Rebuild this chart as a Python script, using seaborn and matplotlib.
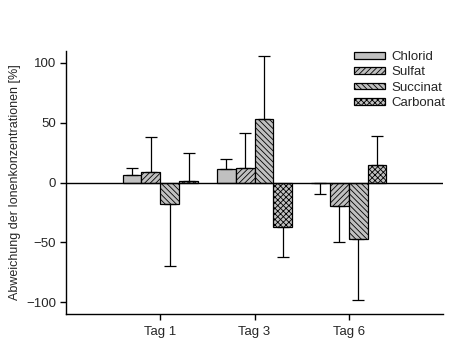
import matplotlib
matplotlib.use("Agg")
import matplotlib.pyplot as plt
import seaborn as sns
import pandas as pd
import numpy as np

days = ["Tag 1", "Tag 3", "Tag 6"]
ions = ["Chlorid", "Sulfat", "Succinat", "Carbonat"]
chlorid = [6.0, 11.7, -0.2]
sulfat = [9.0, 12.5, -20.0]
succinat = [-18.0, 53.0, -47.0]
carbonat = [1.5, -37.0, 14.3]
chlorid_err = [6.5, 8.3, 9.3]
sulfat_err = [29.0, 29.0, 29.5]
succinat_err = [52.0, 52.5, 51.5]
carbonat_err = [23.5, 25.0, 25.0]

values = {"Chlorid": chlorid, "Sulfat": sulfat, "Succinat": succinat, "Carbonat": carbonat}
errors = {"Chlorid": chlorid_err, "Sulfat": sulfat_err, "Succinat": succinat_err, "Carbonat": carbonat_err}
hatches = {"Chlorid": "", "Sulfat": "//////", "Succinat": "\\\\\\\\\\\\", "Carbonat": "xxxxxx"}

rows = []
for ion in ions:
    for d, v in zip(days, values[ion]):
        rows.append({"Tag": d, "Ion": ion, "Wert": v})
df = pd.DataFrame(rows)

sns.set_style("white")
plt.rcParams["font.family"] = ["Liberation Sans", "DejaVu Sans"]
plt.rcParams["hatch.linewidth"] = 0.6
plt.rcParams["font.size"] = 9.5

fig = plt.figure(figsize=(4.7, 3.53), dpi=100)
ax = fig.add_axes([66/470, 1-314/353, (443-66)/470, (314-51)/353])

sns.barplot(data=df, x="Tag", y="Wert", hue="Ion", order=days, hue_order=ions,
            palette=["#c0c0c0"]*4, edgecolor="black", linewidth=0.9, width=0.8,
            errorbar=None, ax=ax, saturation=1)

for ion, cont in zip(ions, ax.containers):
    xs, ys, lo, hi = [], [], [], []
    for bar, v, e in zip(cont.patches, values[ion], errors[ion]):
        bar.set_hatch(hatches[ion])
        xs.append(bar.get_x() + bar.get_width()/2)
        ys.append(v)
        if v >= 0:
            lo.append(0); hi.append(e)
        else:
            lo.append(e); hi.append(0)
    ax.errorbar(xs, ys, yerr=[lo, hi], fmt="none", ecolor="black",
                elinewidth=0.9, capsize=4, capthick=0.9, zorder=1)

ax.axhline(0, color="black", lw=1, zorder=3)
ax.set_xlim(-1, 3)
ax.set_ylim(-110, 110)
ax.set_yticks([-100, -50, 0, 50, 100])
ax.set_xlabel("")
ax.set_ylabel("Abweichung der Ionenkonzentrationen [%]", fontsize=9, labelpad=4)
for s in ["top", "right"]:
    ax.spines[s].set_visible(False)
for s in ["left", "bottom"]:
    ax.spines[s].set_color("black")
    ax.spines[s].set_linewidth(1)
ax.tick_params(axis="both", direction="out", length=4, width=1, color="black",
               labelsize=9.5, bottom=True, left=True, pad=3)
ax.tick_params(axis="x", pad=5)

leg = ax.legend(loc="upper left", bbox_to_anchor=(0.764, 1.0), frameon=False,
                fontsize=9.5, handlelength=2.35, handleheight=0.4, handletextpad=0.45,
                labelspacing=0.25, borderaxespad=0, borderpad=0)
for h, ion in zip(leg.legend_handles, ions):
    h.set_hatch(hatches[ion])
    h.set_edgecolor("black")

fig.savefig("out.png", dpi=100)
